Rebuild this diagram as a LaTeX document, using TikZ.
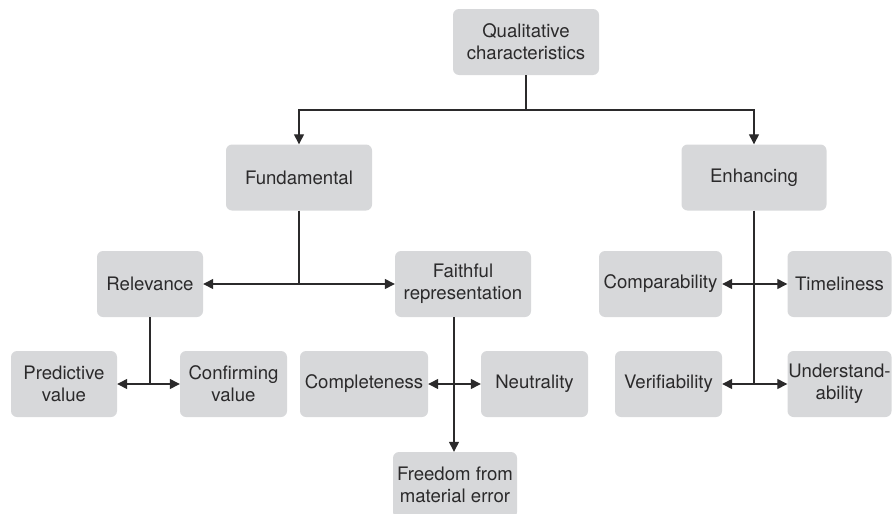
\documentclass[tikz,border=0pt]{standalone}
\usepackage{fontspec}
\setmainfont{TeX Gyre Heros}
\usepackage{xcolor}
\usepackage{tikz}
\usetikzlibrary{arrows.meta}
\usetikzlibrary{calc}

\definecolor{boxgray}{HTML}{D7D8DA}
\definecolor{inkgray}{HTML}{2B2A2B}

\begin{document}
\begin{tikzpicture}[x=1pt,y=-1pt,
    qbox/.style = {rectangle,rounded corners=6pt,fill=boxgray,text=inkgray,align=center,
                   minimum height=66pt,inner sep=0pt,
                   font=\fontsize{18.6}{22}\selectfont},
    link/.style = {draw=inkgray,line width=1.3pt},
    tip/.style  = {link,-{Triangle[length=10pt,width=10pt]}}]
    {
    \useasboundingbox (0,0) rectangle (892,514);

    \node[qbox,minimum width=146pt](qualitative) at (526,42) {Qualitative\\characteristics};

    \node[qbox,minimum width=146pt](fundamental) at (299,177.5) {Fundamental};
    \node[qbox,minimum width=145pt](enhancing) at (754,177.5) {Enhancing};

    \node[qbox,minimum width=106pt](relevance) at (150,284) {Relevance};
    \node[qbox,minimum width=136pt](faithful) at (463,284) {Faithful\\representation};

    \node[qbox,minimum width=106pt](predictive) at (64,384) {Predictive\\value};
    \node[qbox,minimum width=107pt](confirming) at (233.5,384) {Confirming\\value};
    \node[qbox,minimum width=128pt](completeness) at (364,384) {Completeness};
    \node[qbox,minimum width=107pt](neutrality) at (534.5,384) {Neutrality};
    \node[qbox,minimum width=124pt](freedom) at (455,485) {Freedom from\\material error};

    \node[qbox,minimum width=123pt](comparability) at (660.5,284) {Comparability};
    \node[qbox,minimum width=104pt](timeliness) at (839.5,284) {Timeliness};
    \node[qbox,minimum width=107pt](verifiability) at (668.5,384) {Verifiability};
    \node[qbox,minimum width=104pt](understandability) at (839.5,384) {Understand-\\ability};

    % joints of the connectors
    \coordinate (topBar) at (526,110);
    \coordinate (fundJoin) at (fundamental |- relevance);
    \coordinate (relJoin) at (relevance |- predictive);
    \coordinate (faithJoin) at (454,384);
    \coordinate (enhTop) at (754,284);
    \coordinate (enhJoin) at (754,384);

    \draw [link] (qualitative) -- (topBar);
    \draw [tip] (topBar) -| (fundamental);
    \draw [tip] (topBar) -| (enhancing);

    \draw [link] (fundamental) -- (fundJoin);
    \draw [tip] (fundJoin) -- (relevance);
    \draw [tip] (fundJoin) -- (faithful);

    \draw [link] (relevance) -- (relJoin);
    \draw [tip] (relJoin) -- (predictive);
    \draw [tip] (relJoin) -- (confirming);

    \draw [tip] (faithful.south -| faithJoin) -- (freedom.north -| faithJoin);
    \draw [tip] (faithJoin) -- (completeness);
    \draw [tip] (faithJoin) -- (neutrality);

    \draw [link] (enhancing) -- (enhJoin);
    \draw [tip] (enhTop) -- (comparability);
    \draw [tip] (enhTop) -- (timeliness);
    \draw [tip] (enhJoin) -- (verifiability);
    \draw [tip] (enhJoin) -- (understandability);
    }
\end{tikzpicture}
\end{document}
